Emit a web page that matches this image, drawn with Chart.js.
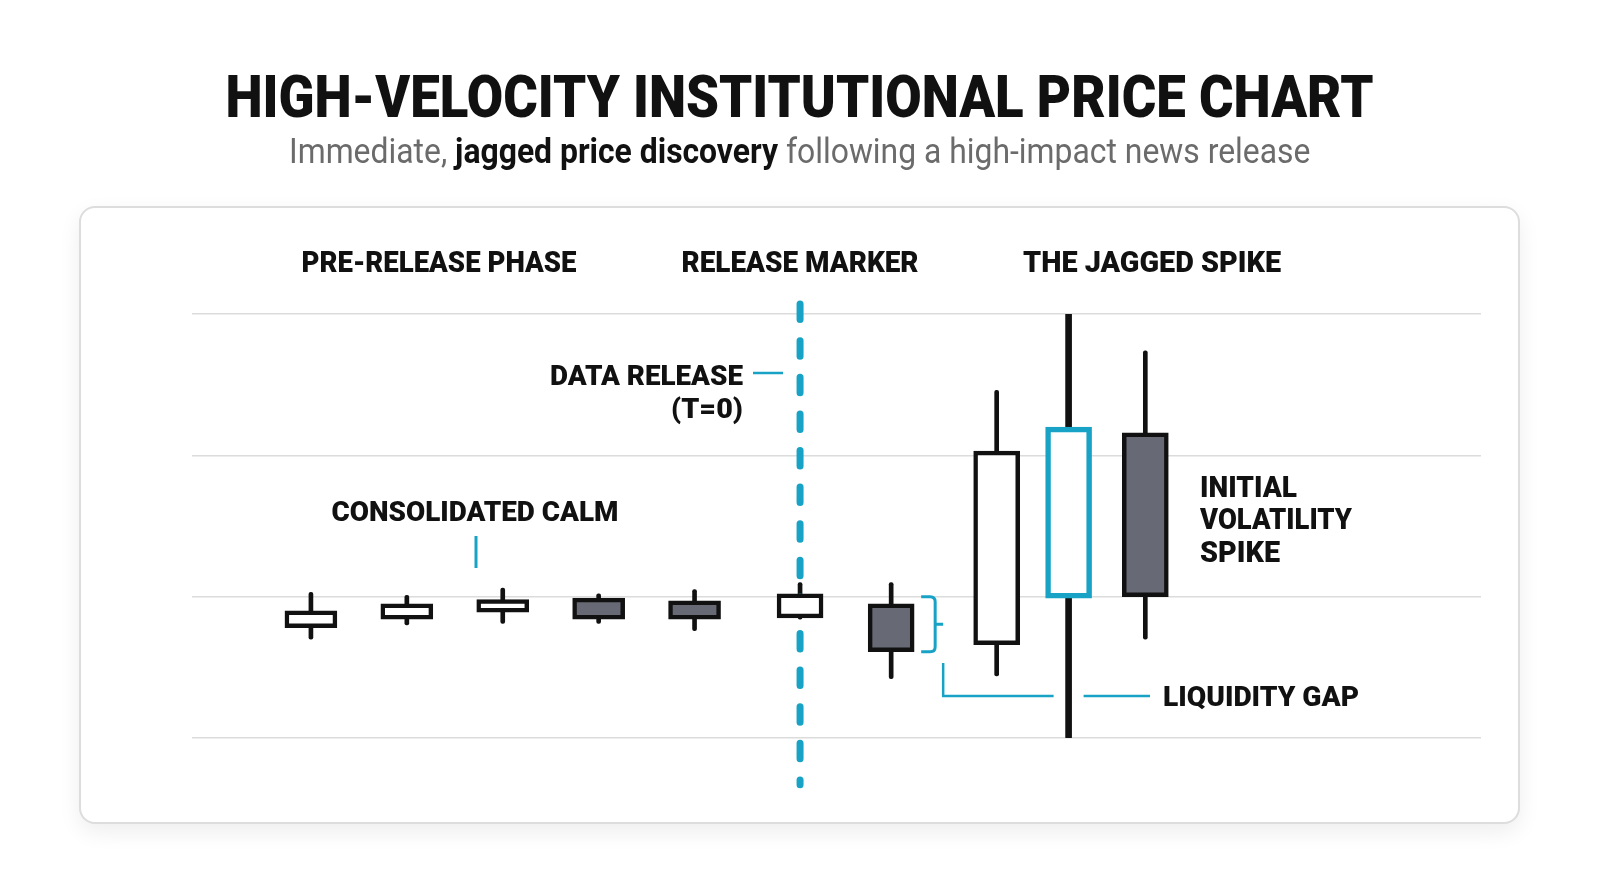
<!DOCTYPE html>
<html>
<head>
<meta charset="utf-8">
<title>High-Velocity Institutional Price Chart</title>
<script src="https://cdn.jsdelivr.net/npm/chart.js@4.4.1/dist/chart.umd.min.js"></script>
<style>
    html, body { margin: 0; padding: 0; background: #ffffff; }
    body { width: 1600px; height: 893px; position: relative; overflow: hidden; font-family: Roboto, 'Noto Sans', sans-serif; }
    .card {
        position: absolute; left: 79px; top: 206px; width: 1441px; height: 618px;
        box-sizing: border-box; border: 2px solid #dddddd; border-radius: 16px; background: #ffffff;
        box-shadow: 0 8px 22px rgba(0, 0, 0, 0.07);
    }
    #chartPrecio { position: absolute; left: 0; top: 0; }
    .linea { position: absolute; left: 0; width: 1600px; text-align: center; white-space: nowrap; }
    .linea .txt { display: inline-block; transform-origin: 50% 50%; }
    #titulo { top: 67px; font: 900 60px/60px Roboto, sans-serif; color: #111111; }
    #subtitulo { top: 134px; font: 400 35px/35px Roboto, sans-serif; color: #6b6b6b; }
    #subtitulo b { color: #111111; font-weight: 700; }
</style>
</head>
<body>
<div class="card"></div>
<canvas id="chartPrecio" width="1600" height="893"></canvas>
<div class="linea" id="titulo"><span class="txt" data-w="1148">HIGH-VELOCITY INSTITUTIONAL PRICE CHART</span></div>
<div class="linea" id="subtitulo"><span class="txt" data-w="1021">Immediate, <b>jagged price discovery</b> following a high-impact news release</span></div>

<script>
// Datos de velas (minutos respecto a la publicación, precios)
const minutos = [-5.1, -4.1, -3.1, -2.1, -1.1, 0, 0.95, 2.05, 2.8, 3.6];
const aperturas = [100.78, 100.84, 100.89, 100.99, 100.97, 100.85, 100.95, 100.66, 100.99, 102.16];
const maximos = [101.03, 101.01, 101.06, 101.02, 101.05, 101.10, 101.10, 102.46, 103.03, 102.74];
const minimos = [100.70, 100.80, 100.81, 100.81, 100.76, 100.84, 100.42, 100.44, 99.99, 100.70];
const cierres = [100.90, 100.95, 100.98, 100.84, 100.84, 101.02, 100.61, 102.03, 102.20, 101.00];
const lineaPublicacion = [103.07, 99.67];
const ticksPrecio = [100, 101, 102, 103];

const indicePublicacion = 5;
const indiceDestacado = 8;

const TEAL = '#18a3c6';
const NEGRO = '#111111';
const GRIS_OSCURO = '#676a75';

// Ajustar ancho de títulos (fuente condensada en el original)
document.querySelectorAll('.linea .txt').forEach(el => {
    const objetivo = parseFloat(el.dataset.w);
    el.style.transform = `scaleX(${objetivo / el.offsetWidth})`;
});

const cuerpo = i => ({ x: minutos[i], y: [aperturas[i], cierres[i]] });
const mecha = i => ({ x: minutos[i], y: [minimos[i], maximos[i]] });
const relleno = i => cierres[i] >= aperturas[i] ? '#ffffff' : GRIS_OSCURO;
const borde = i => i === indiceDestacado ? TEAL : NEGRO;

const indices = minutos.map((m, i) => i);
const previos = indices.filter(i => i < indicePublicacion);
const posteriores = indices.filter(i => i >= indicePublicacion);
const normales = indices.filter(i => i !== indiceDestacado);

// Textos y marcas de anotación
function textoAjustado(ctx, texto, x, y, ancho, align) {
    const medido = ctx.measureText(texto).width;
    ctx.save();
    ctx.translate(x, y);
    ctx.scale(ancho / medido, 1);
    ctx.textAlign = align;
    ctx.fillText(texto, 0, 0);
    ctx.restore();
}

const notas = {
    id: 'notas',
    afterDatasetsDraw(chart) {
        const { ctx, scales: { x, y } } = chart;
        ctx.save();
        ctx.fillStyle = NEGRO;
        ctx.textBaseline = 'alphabetic';

        // Encabezados de fase
        ctx.font = '900 29px Roboto';
        textoAjustado(ctx, 'PRE-RELEASE PHASE', 439, 272, 275, 'center');
        textoAjustado(ctx, 'RELEASE MARKER', x.getPixelForValue(0), 272, 237, 'center');
        textoAjustado(ctx, 'THE JAGGED SPIKE', 1152, 272, 258, 'center');

        ctx.font = '900 28px Roboto';
        textoAjustado(ctx, 'CONSOLIDATED CALM', 475, 521, 287, 'center');
        textoAjustado(ctx, 'DATA RELEASE', 743, 385, 193, 'right');
        textoAjustado(ctx, '(T=0)', 743, 418, 72, 'right');
        textoAjustado(ctx, 'LIQUIDITY GAP', 1163, 706, 196, 'left');
        ctx.font = '900 29px Roboto';
        textoAjustado(ctx, 'INITIAL', 1200, 497, 97, 'left');
        textoAjustado(ctx, 'VOLATILITY', 1200, 529, 152, 'left');
        textoAjustado(ctx, 'SPIKE', 1200, 562, 80, 'left');

        ctx.strokeStyle = TEAL;
        ctx.lineCap = 'butt';

        // Marca de "consolidated calm"
        ctx.lineWidth = 3;
        ctx.beginPath();
        ctx.moveTo(476, 536);
        ctx.lineTo(476, 568);
        ctx.stroke();

        // Conector de "data release"
        ctx.lineWidth = 2.5;
        ctx.beginPath();
        ctx.moveTo(753, 373);
        ctx.lineTo(783, 373);
        ctx.stroke();

        // Llave junto a la primera vela posterior
        const xv = x.getPixelForValue(minutos[6]);
        const top = y.getPixelForValue(101.0);
        const bot = y.getPixelForValue(cierres[6]);
        const mid = (top + bot) / 2;
        const bx0 = xv + 30, bx1 = xv + 44, r = 5;
        ctx.lineWidth = 3;
        ctx.beginPath();
        ctx.moveTo(bx0, top);
        ctx.lineTo(bx1 - r, top);
        ctx.quadraticCurveTo(bx1, top, bx1, top + r);
        ctx.lineTo(bx1, bot - r);
        ctx.quadraticCurveTo(bx1, bot, bx1 - r, bot);
        ctx.lineTo(bx0, bot);
        ctx.moveTo(bx1, mid);
        ctx.lineTo(bx1 + 8, mid);
        ctx.stroke();

        // Línea de "liquidity gap"
        const xs = x.getPixelForValue(minutos[indiceDestacado]);
        const yl = 696;
        ctx.lineWidth = 2.5;
        ctx.beginPath();
        ctx.moveTo(xv + 52, 663);
        ctx.lineTo(xv + 52, yl);
        ctx.lineTo(xs - 15, yl);
        ctx.moveTo(xs + 15, yl);
        ctx.lineTo(1150, yl);
        ctx.stroke();

        ctx.restore();
    }
};

const ctx = document.getElementById('chartPrecio').getContext('2d');
new Chart(ctx, {
    type: 'bar',
    data: {
        datasets: [
            {
                label: 'Cuerpos previos',
                data: previos.map(cuerpo),
                backgroundColor: previos.map(relleno),
                borderColor: previos.map(borde),
                borderWidth: 4.5,
                borderSkipped: false,
                barThickness: 52,
                grouped: false,
                order: 0
            },
            {
                label: 'Cuerpos posteriores',
                data: posteriores.map(cuerpo),
                backgroundColor: posteriores.map(relleno),
                borderColor: posteriores.map(borde),
                borderWidth: posteriores.map(i => i === indiceDestacado ? 5.5 : 4.5),
                borderSkipped: false,
                barThickness: 46,
                grouped: false,
                order: 0
            },
            {
                type: 'line',
                label: 'Publicación',
                data: lineaPublicacion.map(v => ({ x: 0, y: v })),
                borderColor: TEAL,
                borderWidth: 7,
                borderDash: [15.5, 21.1],
                borderCapStyle: 'round',
                pointRadius: 0,
                clip: false,
                order: 1
            },
            {
                label: 'Mechas',
                data: normales.map(mecha),
                backgroundColor: NEGRO,
                borderWidth: 0,
                borderRadius: 2,
                borderSkipped: false,
                barThickness: 4,
                grouped: false,
                order: 2
            },
            {
                label: 'Mecha destacada',
                data: [mecha(indiceDestacado)],
                backgroundColor: NEGRO,
                borderWidth: 0,
                borderRadius: 3,
                borderSkipped: false,
                barThickness: 6,
                grouped: false,
                order: 2
            }
        ]
    },
    options: {
        responsive: false,
        animation: false,
        layout: { padding: { left: 192, right: 119, top: 314, bottom: 155 } },
        plugins: {
            legend: { display: false },
            tooltip: { enabled: false }
        },
        scales: {
            x: { type: 'linear', min: -6.34, max: 7.1, offset: false, display: false },
            y: {
                min: 100,
                max: 103,
                afterBuildTicks: scale => { scale.ticks = ticksPrecio.map(v => ({ value: v })); },
                ticks: { display: false },
                grid: { color: '#dcdcdc', lineWidth: 1.5, drawTicks: false },
                border: { display: false }
            }
        }
    },
    plugins: [notas]
});
</script>
</body>
</html>
